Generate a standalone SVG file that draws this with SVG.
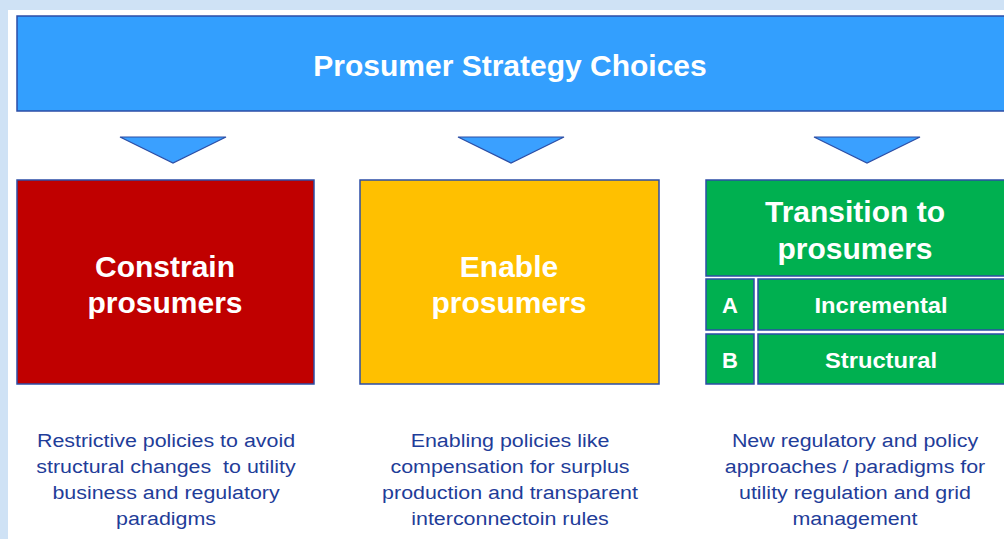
<svg xmlns="http://www.w3.org/2000/svg" width="1004" height="539" viewBox="0 0 1004 539">
<style>
.box{stroke:#2c4ea6;stroke-width:1.5}
.tri{fill:#3aa0ff;stroke:#2c4ea6;stroke-width:1.2}
.t{font-family:"Liberation Sans",Arial,sans-serif;font-weight:bold;fill:#ffffff;text-anchor:middle}
.d{font-family:"Liberation Sans",Arial,sans-serif;fill:#1f3d99;text-anchor:middle;font-size:18px}
</style>
<rect x="0" y="0" width="1004" height="539" fill="#cfe2f5"/>
<rect x="8" y="10" width="996" height="529" fill="#ffffff"/>
<g id="top">
<rect class="box" x="17" y="16" width="995" height="95" fill="#339ffe"/>
<text class="t" x="510" y="76" font-size="30">Prosumer Strategy Choices</text>
</g>
<g id="connectors">
<polygon class="tri" points="120,137 226,137 173,163"/>
<polygon class="tri" points="458,137 564,137 511,163"/>
<polygon class="tri" points="814,137 920,137 867,163"/>
</g>
<g id="constrain">
<rect class="box" x="17" y="180" width="297" height="204" fill="#c00000"/>
<text class="t" x="165" y="277" font-size="30">Constrain</text>
<text class="t" x="165" y="313" font-size="30">prosumers</text>
</g>
<g id="enable">
<rect class="box" x="360" y="180" width="299" height="204" fill="#ffc000"/>
<text class="t" x="509" y="277" font-size="30">Enable</text>
<text class="t" x="509" y="313" font-size="30">prosumers</text>
</g>
<g id="transition">
<rect class="box" x="706" y="180" width="306" height="96" fill="#00b050"/>
<text class="t" x="855" y="222" font-size="30">Transition to</text>
<text class="t" x="855" y="259" font-size="30">prosumers</text>
</g>
<g id="optionA">
<rect class="box" x="706" y="279" width="48" height="51" fill="#00b050"/>
<rect class="box" x="758" y="279" width="254" height="51" fill="#00b050"/>
<text class="t" x="730" y="313" font-size="22">A</text>
<text class="t" transform="translate(881 313) scale(1.08 1)" x="0" y="0" font-size="22">Incremental</text>
</g>
<g id="optionB">
<rect class="box" x="706" y="334" width="48" height="50" fill="#00b050"/>
<rect class="box" x="758" y="334" width="254" height="50" fill="#00b050"/>
<text class="t" x="730" y="368" font-size="22">B</text>
<text class="t" transform="translate(881 368) scale(1.08 1)" x="0" y="0" font-size="22">Structural</text>
</g>
<g id="desc-constrain" transform="translate(166 0) scale(1.19 1)">
<text class="d" x="0" y="447">Restrictive policies to avoid</text>
<text class="d" x="0" y="473" xml:space="preserve">structural changes  to utility</text>
<text class="d" x="0" y="499">business and regulatory</text>
<text class="d" x="0" y="525">paradigms</text>
</g>
<g id="desc-enable" transform="translate(510 0) scale(1.19 1)">
<text class="d" x="0" y="447">Enabling policies like</text>
<text class="d" x="0" y="473">compensation for surplus</text>
<text class="d" x="0" y="499">production and transparent</text>
<text class="d" x="0" y="525">interconnectoin rules</text>
</g>
<g id="desc-transition" transform="translate(855 0) scale(1.19 1)">
<text class="d" x="0" y="447">New regulatory and policy</text>
<text class="d" x="0" y="473">approaches / paradigms for</text>
<text class="d" x="0" y="499">utility regulation and grid</text>
<text class="d" x="0" y="525">management</text>
</g>
</svg>
